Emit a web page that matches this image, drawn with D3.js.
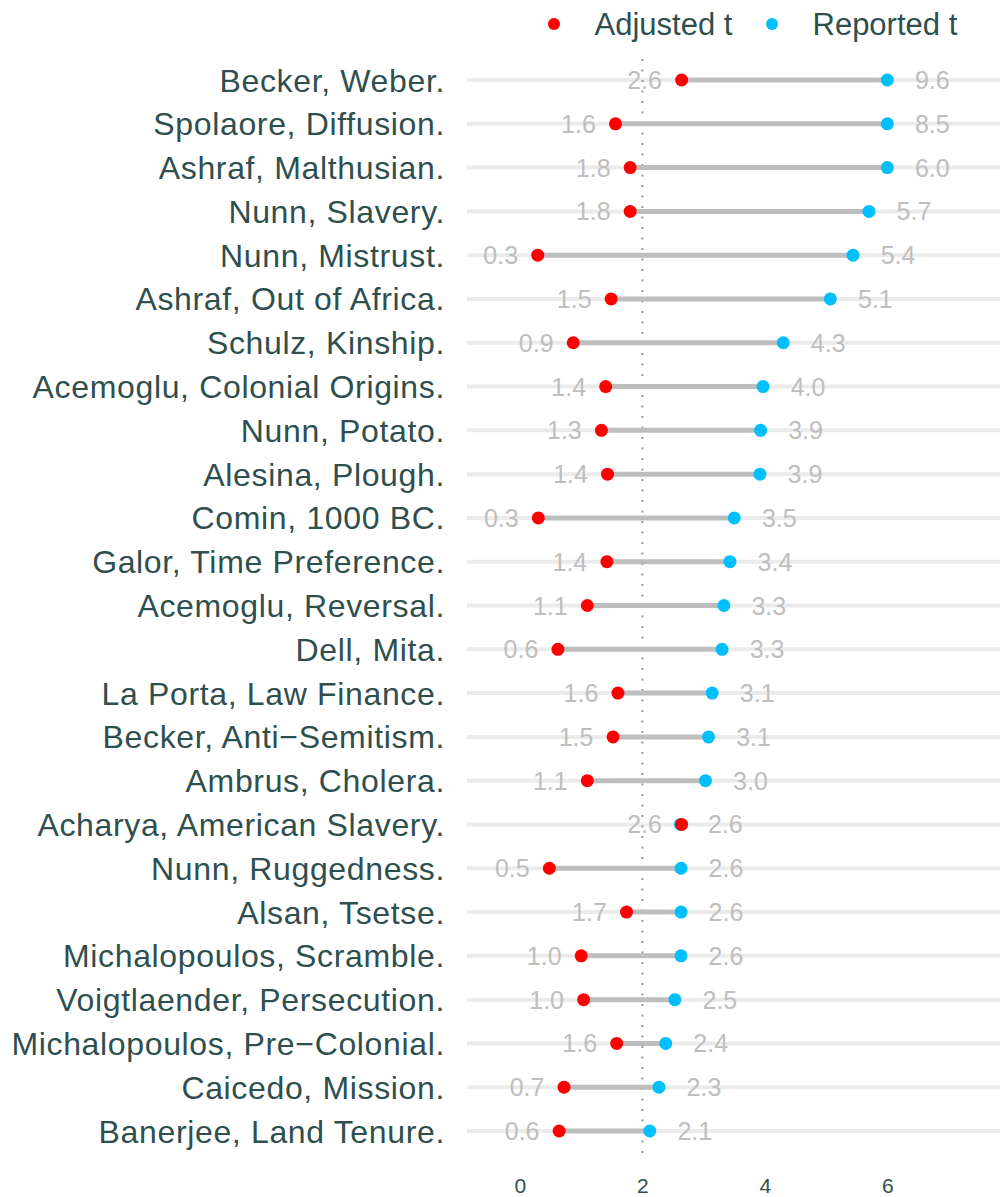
<!DOCTYPE html>
<html><head><meta charset="utf-8">
<script src="https://cdn.jsdelivr.net/npm/d3@7"></script>
<style>body{margin:0;background:#fff}svg{display:block}</style>
</head><body>
<svg id="c" width="1000" height="1197"></svg>
<script>
const studies = ["Becker, Weber.","Spolaore, Diffusion.","Ashraf, Malthusian.","Nunn, Slavery.","Nunn, Mistrust.","Ashraf, Out of Africa.","Schulz, Kinship.","Acemoglu, Colonial Origins.","Nunn, Potato.","Alesina, Plough.","Comin, 1000 BC.","Galor, Time Preference.","Acemoglu, Reversal.","Dell, Mita.","La Porta, Law Finance.","Becker, Anti\u2212Semitism.","Ambrus, Cholera.","Acharya, American Slavery.","Nunn, Ruggedness.","Alsan, Tsetse.","Michalopoulos, Scramble.","Voigtlaender, Persecution.","Michalopoulos, Pre\u2212Colonial.","Caicedo, Mission.","Banerjee, Land Tenure."];
const adjustedT = [2.64,1.56,1.8,1.8,0.29,1.49,0.87,1.4,1.33,1.43,0.3,1.42,1.1,0.62,1.6,1.52,1.1,2.64,0.48,1.74,1.0,1.04,1.58,0.72,0.64];
const reportedT = [9.6,8.5,6.0,5.7,5.44,5.07,4.3,3.97,3.93,3.92,3.5,3.43,3.33,3.3,3.14,3.08,3.03,2.62,2.63,2.63,2.63,2.53,2.38,2.27,2.12];
const xTicks = [0,2,4,6];
const plotCap = 6;
const legendLabels = ["Adjusted t","Reported t"];
const colors = ["#FF0000","#00BFFF"];

const FONT = "Liberation Sans, Arial, sans-serif";
const svg = d3.select("#c");
const x = d3.scaleLinear().domain([-0.865, 7.84]).range([467, 1000]);
const y = d3.scalePoint().domain(studies).range([80, 1131]);
const txt = "#2F4F4F", lab = "#BEBEBE";
const rows = studies.map((s,i)=>({s, a:adjustedT[i], r:reportedT[i], rp:Math.min(reportedT[i], plotCap)}));

// grid lines
svg.append("g").selectAll("line").data(studies).join("line")
  .attr("x1", 467).attr("x2", 1000).attr("y1", d=>y(d)).attr("y2", d=>y(d))
  .attr("stroke", "#EBEBEB").attr("stroke-width", 4);

// dotted reference line
svg.append("line").attr("x1", x(2)).attr("x2", x(2)).attr("y1", 59).attr("y2", 1160)
  .attr("stroke", "#999").attr("stroke-width", 2).attr("stroke-dasharray", "2,8.5");

// segments
svg.append("g").selectAll("line").data(rows).join("line")
  .attr("x1", d=>x(d.a)).attr("x2", d=>x(d.rp)).attr("y1", d=>y(d.s)).attr("y2", d=>y(d.s))
  .attr("stroke", "#BEBEBE").attr("stroke-width", 5);

// value labels
svg.append("g").selectAll("text").data(rows).join("text")
  .attr("x", d=>x(d.a)-37).attr("y", d=>y(d.s)).attr("dy","0.36em")
  .attr("text-anchor","middle").style("font-family",FONT)
  .style("font-size", "25px").attr("fill", lab).text(d=>d3.format(".1f")(d.a));
svg.append("g").selectAll("text").data(rows).join("text")
  .attr("x", d=>x(d.rp)+45).attr("y", d=>y(d.s)).attr("dy","0.36em")
  .attr("text-anchor","middle").style("font-family",FONT)
  .style("font-size", "25px").attr("fill", lab).text(d=>d3.format(".1f")(d.r));

// points
svg.append("g").selectAll("circle").data(rows).join("circle")
  .attr("cx", d=>x(d.rp)).attr("cy", d=>y(d.s)).attr("r", 6.5).attr("fill", colors[1]);
svg.append("g").selectAll("circle").data(rows).join("circle")
  .attr("cx", d=>x(d.a)).attr("cy", d=>y(d.s)).attr("r", 6.5).attr("fill", colors[0]);

// y labels
svg.append("g").selectAll("text").data(studies).join("text")
  .attr("x", 445).attr("y", d=>y(d)).attr("dy","0.36em").attr("text-anchor","end")
  .style("font-family",FONT).style("font-size", "32px").style("letter-spacing","0.65px")
  .attr("fill", txt).text(d=>d);

// x axis
const xa = svg.append("g").attr("transform","translate(0,1178)")
  .call(d3.axisBottom(x).tickValues(xTicks).tickSize(0).tickPadding(0));
xa.attr("font-size", 21).attr("font-family", FONT);
xa.select(".domain").remove();
xa.selectAll("text").style("font-family",FONT)
  .style("font-size", "21px").attr("fill", txt).attr("dy","0.71em");

// legend
const lg = svg.append("g");
const lx = [554, 772];
legendLabels.forEach((t,i)=>{
  lg.append("circle").attr("cx", lx[i]).attr("cy", 24).attr("r", 6).attr("fill", colors[i]);
  lg.append("text").attr("x", lx[i]+40.5).attr("y", 24).attr("dy","0.36em")
    .style("font-family",FONT).style("font-size", "31px")
    .attr("fill", txt).text(t);
});
</script>
</body></html>
